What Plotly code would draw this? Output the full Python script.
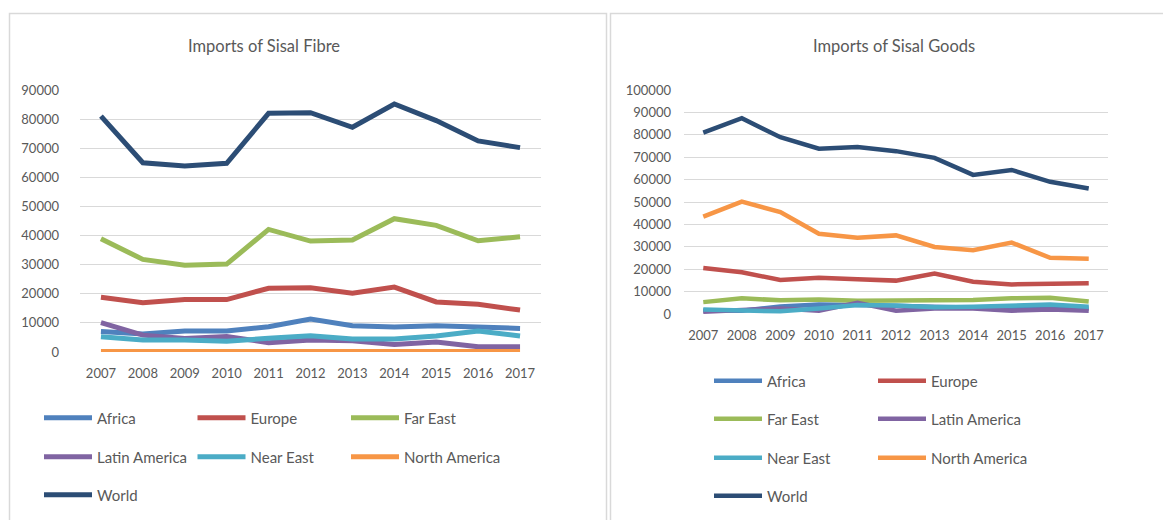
import plotly.graph_objects as go

years = ["2007", "2008", "2009", "2010", "2011", "2012", "2013", "2014", "2015", "2016", "2017"]

# Imports of sisal fibre (tonnes)
fibre_africa = [7000, 6200, 7200, 7200, 8700, 11300, 9000, 8600, 9000, 8600, 8100]
fibre_europe = [18800, 16900, 18000, 18000, 21900, 22100, 20200, 22300, 17200, 16400, 14400]
fibre_far_east = [38900, 31800, 29800, 30200, 42100, 38100, 38500, 45800, 43500, 38200, 39600]
fibre_latin_america = [10100, 5800, 4600, 5300, 3200, 4100, 3900, 2600, 3400, 1800, 1800]
fibre_near_east = [5200, 4100, 4100, 3700, 4700, 5600, 4500, 4500, 5500, 7200, 5500]
fibre_north_america = [200, 200, 300, 200, 200, 400, 300, 200, 300, 200, 200]
fibre_world = [81000, 65000, 63900, 64800, 82000, 82200, 77200, 85200, 79500, 72500, 70200]

# Imports of sisal goods (tonnes)
goods_africa = [1600, 1500, 3300, 4200, 4000, 3500, 3000, 3000, 2500, 2500, 2500]
goods_europe = [20500, 18600, 15200, 16200, 15500, 14900, 18100, 14400, 13200, 13700, 13700]
goods_far_east = [5300, 7000, 6100, 6500, 5900, 5900, 6200, 6200, 7000, 7300, 5600]
goods_latin_america = [1000, 1500, 2500, 1500, 5000, 1500, 2500, 2500, 1500, 2000, 1500]
goods_near_east = [2000, 1500, 1200, 2500, 4000, 3800, 3000, 3200, 3500, 4200, 3200]
goods_north_america = [43500, 50200, 45500, 35800, 34000, 35100, 29900, 28500, 31900, 25100, 24700]
goods_world = [81000, 87400, 78900, 73800, 74600, 72700, 69700, 62100, 64300, 59000, 56000]

fibre_ticks = [0, 10000, 20000, 30000, 40000, 50000, 60000, 70000, 80000, 90000]
goods_ticks = [0, 10000, 20000, 30000, 40000, 50000, 60000, 70000, 80000, 90000, 100000]

colors = {
    "Africa": "#4F81BD",
    "Europe": "#C0504D",
    "Far East": "#9BBB59",
    "Latin America": "#8064A2",
    "Near East": "#4BACC6",
    "North America": "#F79646",
    "World": "#2C4D75",
}

W, H = 1163, 520
FONT = "Lato"
TXT = "#595959"
GRID = "#D9D9D9"


def px(x):
    return x / W


def py(y):
    return 1 - y / H


fig = go.Figure()

fibre_series = [
    ("Africa", fibre_africa, "legend"),
    ("Europe", fibre_europe, "legend"),
    ("Far East", fibre_far_east, "legend"),
    ("Latin America", fibre_latin_america, "legend2"),
    ("Near East", fibre_near_east, "legend2"),
    ("North America", fibre_north_america, "legend2"),
    ("World", fibre_world, "legend3"),
]
goods_series = [
    ("Africa", goods_africa, "legend4"),
    ("Europe", goods_europe, "legend4"),
    ("Far East", goods_far_east, "legend5"),
    ("Latin America", goods_latin_america, "legend5"),
    ("Near East", goods_near_east, "legend6"),
    ("North America", goods_north_america, "legend6"),
    ("World", goods_world, "legend7"),
]

for name, vals, lg in fibre_series:
    fig.add_trace(go.Scatter(
        x=years, y=vals, name=name, mode="lines",
        line=dict(color=colors[name], width=5),
        xaxis="x", yaxis="y", legend=lg,
    ))

for name, vals, lg in goods_series:
    fig.add_trace(go.Scatter(
        x=years, y=vals, name=name, mode="lines",
        line=dict(color=colors[name], width=4.5),
        xaxis="x2", yaxis="y2", legend=lg,
    ))

xcommon = dict(
    type="category", range=[-0.5, 10.5], showgrid=False, zeroline=False,
    showline=False, ticks="", tickfont=dict(family=FONT, size=13, color=TXT),
    fixedrange=True,
)
ycommon = dict(
    showgrid=True, gridcolor=GRID, gridwidth=1, zeroline=False, showline=False,
    ticks="", tickfont=dict(family=FONT, size=13, color=TXT), fixedrange=True,
)

legend_common = dict(
    orientation="h", xanchor="left", yanchor="middle",
    xref="container", yref="container",
    font=dict(family=FONT, size=15, color=TXT),
    bgcolor="rgba(0,0,0,0)", borderwidth=0, itemwidth=48,
    entrywidthmode="pixels", itemclick=False, itemdoubleclick=False,
)

fig.update_layout(
    width=W, height=H,
    margin=dict(l=0, r=0, t=0, b=0, autoexpand=False),
    paper_bgcolor="white", plot_bgcolor="white",
    showlegend=True,
    xaxis=dict(xcommon, domain=[px(80), px(541)], anchor="y", ticklabelstandoff=12),
    yaxis=dict(ycommon, domain=[py(352), py(90)], anchor="x", range=[0, 90000],
               tickvals=fibre_ticks, ticktext=[str(v) for v in fibre_ticks],
               ticklabelstandoff=20),
    xaxis2=dict(xcommon, domain=[px(684), px(1108)], anchor="y2", ticklabelstandoff=12),
    yaxis2=dict(ycommon, domain=[py(314), py(90)], anchor="x2", range=[0, 100000],
                tickvals=goods_ticks, ticktext=[str(v) for v in goods_ticks],
                ticklabelstandoff=12),
    legend=dict(legend_common, x=px(39), y=py(418), entrywidth=90.5),
    legend2=dict(legend_common, x=px(39), y=py(457), entrywidth=90.5),
    legend3=dict(legend_common, x=px(39), y=py(495), entrywidth=90.5),
    legend4=dict(legend_common, x=px(709), y=py(381), entrywidth=101),
    legend5=dict(legend_common, x=px(709), y=py(419), entrywidth=101),
    legend6=dict(legend_common, x=px(709), y=py(458), entrywidth=101),
    legend7=dict(legend_common, x=px(709), y=py(496), entrywidth=101),
)

# Titles
fig.add_annotation(text="Imports of Sisal Fibre", x=px(264), y=py(46), xref="paper", yref="paper",
                   showarrow=False, font=dict(family=FONT, size=16.5, color=TXT),
                   xanchor="center", yanchor="middle")
fig.add_annotation(text="Imports of Sisal Goods", x=px(894), y=py(46), xref="paper", yref="paper",
                   showarrow=False, font=dict(family=FONT, size=16.5, color=TXT),
                   xanchor="center", yanchor="middle")

# Chart area frames
frame = dict(type="rect", xref="paper", yref="paper", line=dict(color=GRID, width=1.5),
             fillcolor="rgba(0,0,0,0)", layer="below")
fig.add_shape(frame, x0=px(9.5), x1=px(606.5), y0=py(540), y1=py(13.5))
fig.add_shape(frame, x0=px(610.5), x1=px(1180), y0=py(540), y1=py(13.5))

fig.write_html("out.html")
